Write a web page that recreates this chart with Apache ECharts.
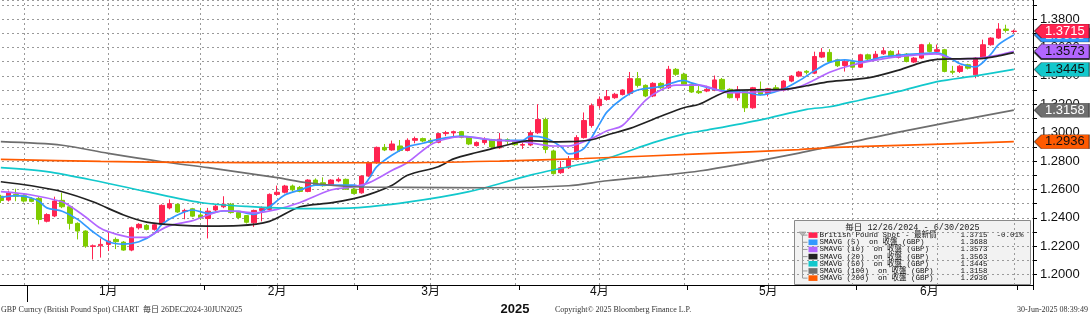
<!DOCTYPE html>
<html><head><meta charset="utf-8">
<script src="https://cdn.jsdelivr.net/npm/echarts@6/dist/echarts.min.js"></script>
<style>html,body{margin:0;padding:0;background:#fff}#c{width:1090px;height:315px}</style>
</head><body><div id="c"></div>
<script>
// ---------- categories (trading days) ----------
const dates = [
'2024-12-26','2024-12-27','2024-12-30','2024-12-31',
'2025-01-01','2025-01-02','2025-01-03','2025-01-06','2025-01-07','2025-01-08','2025-01-09','2025-01-10','2025-01-13','2025-01-14','2025-01-15','2025-01-16','2025-01-17','2025-01-20','2025-01-21','2025-01-22','2025-01-23','2025-01-24','2025-01-27','2025-01-28','2025-01-29','2025-01-30','2025-01-31',
'2025-02-03','2025-02-04','2025-02-05','2025-02-06','2025-02-07','2025-02-10','2025-02-11','2025-02-12','2025-02-13','2025-02-14','2025-02-17','2025-02-18','2025-02-19','2025-02-20','2025-02-21','2025-02-24','2025-02-25','2025-02-26','2025-02-27','2025-02-28',
'2025-03-03','2025-03-04','2025-03-05','2025-03-06','2025-03-07','2025-03-10','2025-03-11','2025-03-12','2025-03-13','2025-03-14','2025-03-17','2025-03-18','2025-03-19','2025-03-20','2025-03-21','2025-03-24','2025-03-25','2025-03-26','2025-03-27','2025-03-28','2025-03-31',
'2025-04-01','2025-04-02','2025-04-03','2025-04-04','2025-04-07','2025-04-08','2025-04-09','2025-04-10','2025-04-11','2025-04-14','2025-04-15','2025-04-16','2025-04-17','2025-04-18','2025-04-21','2025-04-22','2025-04-23','2025-04-24','2025-04-25','2025-04-28','2025-04-29','2025-04-30',
'2025-05-01','2025-05-02','2025-05-05','2025-05-06','2025-05-07','2025-05-08','2025-05-09','2025-05-12','2025-05-13','2025-05-14','2025-05-15','2025-05-16','2025-05-19','2025-05-20','2025-05-21','2025-05-22','2025-05-23','2025-05-26','2025-05-27','2025-05-28','2025-05-29','2025-05-30',
'2025-06-02','2025-06-03','2025-06-04','2025-06-05','2025-06-06','2025-06-09','2025-06-10','2025-06-11','2025-06-12','2025-06-13','2025-06-16','2025-06-17','2025-06-18','2025-06-19','2025-06-20','2025-06-23','2025-06-24','2025-06-25','2025-06-26','2025-06-27','2025-06-30',
'2025-07-01','2025-07-02'
];
const edgeExtra = '2025-07-03';
const monthLabels = ['1月','2月','3月','4月','5月','6月'];
const monthLabelIdx = [14,36,56,78,100,121];
const gridLineIdx = [3,14,26,36,46,56,67,78,89,100,111,122,132];
const yMin = 1.1927, yMax = 1.3934, yStep = 0.01;

// ---------- OHLC: [open, close, low, high] ----------
const ohlc = [
[1.2552,1.2522,1.2505,1.2562],[1.2525,1.2577,1.2515,1.2592],[1.2565,1.2552,1.2517,1.2605],[1.2556,1.2518,1.2508,1.2566],
[1.2535,1.2516,1.2510,1.2545],[1.2537,1.2389,1.2354,1.2548],[1.2376,1.2423,1.2368,1.2432],[1.2413,1.2518,1.2405,1.2549],[1.2523,1.2478,1.2468,1.2577],
[1.2478,1.2361,1.2318,1.2486],[1.2361,1.2307,1.2248,1.2368],[1.2307,1.2201,1.2189,1.2312],[1.2198,1.2203,1.2107,1.2212],[1.2203,1.2213,1.2120,1.2255],
[1.2213,1.2236,1.2166,1.2300],[1.2248,1.2232,1.2180,1.2262],[1.2229,1.2173,1.2168,1.2236],[1.2173,1.2330,1.2165,1.2338],[1.2330,1.2354,1.2318,1.2362],
[1.2347,1.2319,1.2312,1.2356],[1.2319,1.2351,1.2310,1.2358],[1.2354,1.2488,1.2345,1.2495],[1.2470,1.2500,1.2460,1.2530],[1.2495,1.2441,1.2435,1.2502],
[1.2445,1.2452,1.2390,1.2464],[1.2464,1.2412,1.2405,1.2470],[1.2420,1.2400,1.2385,1.2470],
[1.2395,1.2447,1.2255,1.2470],[1.2455,1.2482,1.2445,1.2495],[1.2478,1.2496,1.2468,1.2552],[1.2496,1.2437,1.2430,1.2505],[1.2437,1.2402,1.2390,1.2445],
[1.2416,1.2369,1.2360,1.2420],[1.2365,1.2452,1.2336,1.2458],[1.2452,1.2465,1.2375,1.2480],[1.2459,1.2565,1.2450,1.2572],[1.2565,1.2580,1.2555,1.2627],
[1.2580,1.2624,1.2572,1.2632],[1.2624,1.2597,1.2585,1.2634],[1.2614,1.2586,1.2580,1.2624],[1.2586,1.2666,1.2580,1.2672],[1.2666,1.2631,1.2625,1.2678],
[1.2647,1.2626,1.2620,1.2685],[1.2631,1.2666,1.2628,1.2672],[1.2660,1.2671,1.2650,1.2685],[1.2671,1.2602,1.2598,1.2677],[1.2602,1.2572,1.2565,1.2610],
[1.2576,1.2694,1.2570,1.2700],[1.2694,1.2788,1.2688,1.2795],[1.2788,1.2896,1.2780,1.2902],[1.2896,1.2878,1.2870,1.2920],[1.2878,1.2920,1.2872,1.2944],
[1.2906,1.2874,1.2866,1.2948],[1.2874,1.2946,1.2868,1.2960],[1.2946,1.2958,1.2925,1.2972],[1.2958,1.2941,1.2932,1.2965],[1.2946,1.2932,1.2915,1.2960],
[1.2932,1.2993,1.2925,1.2998],[1.2993,1.3000,1.2975,1.3012],[1.2998,1.3007,1.2968,1.3014],[1.3007,1.2967,1.2960,1.3012],[1.2967,1.2920,1.2912,1.2972],
[1.2909,1.2931,1.2902,1.2938],[1.2930,1.2950,1.2915,1.2967],[1.2950,1.2899,1.2892,1.2956],[1.2893,1.2954,1.2886,1.2998],[1.2950,1.2939,1.2918,1.2960],
[1.2940,1.2915,1.2908,1.2945],
[1.2912,1.2916,1.2885,1.2930],[1.2913,1.2999,1.2905,1.3015],[1.2999,1.3092,1.2990,1.3200],[1.3092,1.2882,1.2855,1.3106],[1.2871,1.2711,1.2705,1.2880],
[1.2718,1.2753,1.2710,1.2800],[1.2753,1.2812,1.2745,1.2835],[1.2812,1.2965,1.2805,1.2982],[1.2965,1.3085,1.2958,1.3142],[1.3050,1.3190,1.3035,1.3205],
[1.3190,1.3235,1.3172,1.3255],[1.3234,1.3253,1.3225,1.3300],[1.3246,1.3270,1.3238,1.3280],[1.3268,1.3300,1.3262,1.3306],[1.3276,1.3380,1.3262,1.3427],
[1.3380,1.3333,1.3318,1.3427],[1.3333,1.3258,1.3250,1.3340],[1.3258,1.3347,1.3250,1.3355],[1.3347,1.3316,1.3308,1.3355],[1.3316,1.3446,1.3308,1.3470],
[1.3446,1.3411,1.3400,1.3455],[1.3411,1.3340,1.3332,1.3422],
[1.3340,1.3286,1.3280,1.3346],[1.3290,1.3281,1.3272,1.3330],[1.3293,1.3305,1.3285,1.3330],[1.3300,1.3371,1.3292,1.3402],[1.3375,1.3305,1.3298,1.3385],
[1.3305,1.3246,1.3240,1.3312],[1.3246,1.3300,1.3225,1.3328],[1.3293,1.3175,1.3145,1.3300],[1.3175,1.3316,1.3168,1.3322],[1.3305,1.3269,1.3262,1.3360],
[1.3276,1.3309,1.3255,1.3315],[1.3316,1.3297,1.3290,1.3335],[1.3300,1.3363,1.3290,1.3370],[1.3363,1.3398,1.3355,1.3405],[1.3398,1.3427,1.3390,1.3435],
[1.3432,1.3425,1.3410,1.3440],[1.3419,1.3536,1.3412,1.3570],[1.3532,1.3565,1.3525,1.3595],[1.3565,1.3501,1.3495,1.3588],[1.3513,1.3471,1.3462,1.3520],
[1.3473,1.3500,1.3430,1.3515],[1.3500,1.3461,1.3455,1.3508],
[1.3461,1.3548,1.3455,1.3555],[1.3548,1.3518,1.3510,1.3556],[1.3518,1.3552,1.3512,1.3575],[1.3555,1.3576,1.3548,1.3600],[1.3572,1.3536,1.3528,1.3580],
[1.3530,1.3553,1.3522,1.3580],[1.3553,1.3501,1.3495,1.3560],[1.3497,1.3525,1.3490,1.3532],[1.3525,1.3619,1.3518,1.3625],[1.3619,1.3572,1.3565,1.3635],
[1.3572,1.3584,1.3550,1.3620],[1.3584,1.3431,1.3425,1.3590],[1.3432,1.3425,1.3410,1.3470],[1.3431,1.3468,1.3420,1.3475],[1.3478,1.3454,1.3445,1.3485],
[1.3407,1.3525,1.3383,1.3532],[1.3525,1.3619,1.3518,1.3655],[1.3619,1.3666,1.3612,1.3672],[1.3666,1.3729,1.3660,1.3771],[1.3729,1.3720,1.3705,1.3760],
[1.3712,1.3715,1.3700,1.3725]
];
const lastChange = '-0.01%';

// ---------- moving averages, read at sampled days: [dayIndex, value] ----------
const sma5 = [[0,1.2544],[2,1.2556],[4,1.2540],[5,1.2515],[6,1.2470],[8,1.2446],[10,1.2389],[12,1.2302],[14,1.2232],[16,1.2215],[18,1.2232],[20,1.2290],[21,1.2355],[23,1.2420],[25,1.2455],[27,1.2432],[29,1.2448],[31,1.2445],[33,1.2425],[35,1.2478],[37,1.2561],[39,1.2596],[41,1.2631],[43,1.2631],[46,1.2631],[47,1.2619],[48,1.2678],[49,1.2760],[51,1.2842],[53,1.2901],[55,1.2925],[57,1.2953],[60,1.2975],[63,1.2955],[65,1.2945],[68,1.2946],[69,1.2975],[71,1.2960],[73,1.2901],[74,1.2850],[76,1.2889],[78,1.3060],[79,1.3146],[81,1.3240],[83,1.3300],[86,1.3325],[89,1.3368],[90,1.3350],[93,1.3305],[95,1.3290],[97,1.3285],[99,1.3265],[102,1.3308],[104,1.3365],[106,1.3435],[108,1.3495],[110,1.3512],[112,1.3498],[115,1.3533],[118,1.3550],[122,1.3562],[124,1.3515],[125,1.3485],[127,1.3463],[129,1.3552],[130,1.3620],[132,1.3688]];
const sma10 = [[0,1.2584],[4,1.2561],[8,1.2513],[9,1.2483],[11,1.2408],[13,1.2326],[15,1.2285],[17,1.2263],[19,1.2263],[20,1.2290],[22,1.2345],[25,1.2380],[27,1.2420],[29,1.2450],[31,1.2445],[33,1.2435],[36,1.2460],[39,1.2508],[43,1.2596],[46,1.2620],[48,1.2648],[51,1.2735],[53,1.2790],[56,1.2915],[58,1.2955],[60,1.2971],[62,1.2965],[64,1.2948],[68,1.2937],[72,1.2906],[74,1.2906],[77,1.2960],[79,1.3013],[81,1.3050],[84,1.3228],[86,1.3300],[88,1.3335],[91,1.3335],[95,1.3280],[99,1.3288],[102,1.3300],[104,1.3323],[106,1.3370],[108,1.3425],[111,1.3476],[114,1.3510],[117,1.3535],[122,1.3555],[124,1.3520],[127,1.3523],[130,1.3547],[132,1.3573]];
const sma20 = [[0,1.2654],[4,1.2626],[8,1.2584],[12,1.2513],[16,1.2420],[19,1.2370],[23,1.2349],[27,1.2342],[31,1.2345],[35,1.2375],[39,1.2478],[43,1.2505],[46,1.2535],[48,1.2565],[51,1.2630],[53,1.2700],[57,1.2760],[59,1.2815],[62,1.2860],[65,1.2900],[69,1.2944],[72,1.2935],[74,1.2936],[77,1.2950],[79,1.2983],[82,1.3030],[86,1.3115],[89,1.3175],[91,1.3200],[93,1.3253],[95,1.3295],[99,1.3302],[102,1.3305],[105,1.3330],[108,1.3359],[113,1.3385],[117,1.3440],[120,1.3495],[122,1.3516],[125,1.3520],[128,1.3523],[130,1.3540],[132,1.3563]];
const sma50 = [[0,1.2753],[6,1.2725],[13,1.2654],[19,1.2584],[26,1.2508],[32,1.2480],[39,1.2465],[46,1.2470],[53,1.2510],[61,1.2584],[69,1.2701],[74,1.2760],[79,1.2819],[85,1.2930],[89,1.2990],[92,1.3018],[99,1.3090],[105,1.3164],[108,1.3182],[112,1.3230],[117,1.3290],[122,1.3359],[127,1.3400],[132,1.3445]];
const sma100 = [[0,1.2936],[8,1.2911],[14,1.2854],[21,1.2795],[27,1.2753],[36,1.2683],[40,1.2647],[46,1.2619],[53,1.2615],[64,1.2612],[74,1.2626],[79,1.2661],[91,1.2730],[104,1.2856],[117,1.3004],[132,1.3158]];
const sma200 = [[0,1.2812],[13,1.2797],[26,1.2790],[39,1.2788],[52,1.2788],[65,1.2800],[76,1.2818],[91,1.2850],[104,1.2880],[108,1.2894],[117,1.2910],[132,1.2936]];

const legendTitle = '毎日 12/26/2024 - 6/30/2025';
const legendNames = ['British Pound Spot - 最新價','SMAVG (5)  on 收盤 (GBP)','SMAVG (10)  on 收盤 (GBP)','SMAVG (20)  on 收盤 (GBP)','SMAVG (50)  on 收盤 (GBP)','SMAVG (100)  on 收盤 (GBP)','SMAVG (200)  on 收盤 (GBP)'];
const footerLeft = 'GBP Curncy (British Pound Spot) CHART  毎日 26DEC2024-30JUN2025';
const footerMid = 'Copyright\u00a9 2025 Bloomberg Finance L.P.';
const footerRight = '30-Jun-2025 08:39:49';

// ---------- styles ----------
const UP = '#ff2350', DOWN = '#7fcc00';
const lineCfg = [
  {data: sma5,   color: '#3399ff', fg: '#ffffff', z: 16},
  {data: sma10,  color: '#b266ff', fg: '#111111', z: 18},
  {data: sma20,  color: '#222222', fg: '#ffffff', z: 17},
  {data: sma50,  color: '#12c8cc', fg: '#111111', z: 15},
  {data: sma100, color: '#6e6e6e', fg: '#ffffff', z: 14},
  {data: sma200, color: '#ff5a00', fg: '#111111', z: 13}
];
const lastIdx = ohlc.length - 1;
const lastClose = ohlc[lastIdx][1];

const monthStartIdx = [];
for (let i = 1; i < dates.length; i++) if (dates[i].slice(0,7) !== dates[i-1].slice(0,7)) monthStartIdx.push(i);
const yearStartIdx = dates.findIndex(d => d.startsWith('2025'));

function flag(val, bg, fg, z) {
  return {
    silent: true, z: z,
    symbol: 'path://M0,7L7,0L55,0L55,14L7,14Z', symbolSize: [55, 14], symbolOffset: [48, 0],
    itemStyle: {color: bg, borderColor: 'rgba(0,0,0,0.45)', borderWidth: 0.8},
    label: {show: true, position: 'inside', offset: [3, 0], color: fg, fontSize: 13, fontFamily: 'Liberation Sans', formatter: () => val.toFixed(4)},
    data: [{coord: [lastIdx, val], value: val}]
  };
}

const series = [{
  type: 'candlestick', name: 'GBP', data: ohlc, z: 2, barWidth: 5,
  itemStyle: {color: UP, color0: DOWN, borderColor: UP, borderColor0: DOWN, borderWidth: 1},
  markLine: {silent: true, symbol: 'none', z: 1, label: {show: false},
    lineStyle: {color: '#9a9a9a', type: [2, 3], width: 1},
    data: gridLineIdx.map(i => ({xAxis: i}))},
  markPoint: flag(lastClose, UP, '#ffffff', 20)
}];
lineCfg.forEach(c => {
  series.push({
    type: 'line', data: c.data, z: 3, symbol: 'none', smooth: 0.3,
    lineStyle: {color: c.color, width: 1.7},
    markPoint: flag(c.data[c.data.length - 1][1], c.color, c.fg, c.z)
  });
});

// legend box built from the same arrays
const legendVals = [lastClose].concat(lineCfg.map(c => c.data[c.data.length - 1][1]));
const legendColors = [UP].concat(lineCfg.map(c => c.color));
const monoFont = '7.5px "Liberation Mono", "Noto Sans CJK TC"';
const lgChildren = [
  {type: 'rect', shape: {x: 0, y: 0, width: 236, height: 64}, style: {fill: '#f2f2f2', stroke: '#8a8a8a', lineWidth: 1}},
  {type: 'text', style: {x: 118, y: 7.5, text: legendTitle, textAlign: 'center', textVerticalAlign: 'middle', font: '8.5px "Liberation Mono", "Noto Sans CJK JP"', fill: '#222'}},
  {type: 'line', shape: {x1: 8, y1: 13, x2: 8, y2: 57.5}, style: {stroke: '#999', lineWidth: 1}},
  {type: 'polygon', shape: {points: [[4.5, 11.5], [11.5, 11.5], [8, 15.5]]}, style: {fill: '#bbb', stroke: '#888', lineWidth: 0.6}}
];
legendNames.forEach((nm, k) => {
  const y = 14.6 + 7.17 * k;
  lgChildren.push({type: 'line', shape: {x1: 8, y1: y, x2: 13, y2: y}, style: {stroke: '#999', lineWidth: 1}});
  lgChildren.push({type: 'rect', shape: {x: 14, y: y - 2.8, width: 9, height: 5.6}, style: {fill: legendColors[k]}});
  lgChildren.push({type: 'text', style: {x: 25, y: y, text: nm, textVerticalAlign: 'middle', font: monoFont, fill: '#111'}});
  lgChildren.push({type: 'text', style: {x: 193, y: y, text: legendVals[k].toFixed(4), textAlign: 'right', textVerticalAlign: 'middle', font: monoFont, fill: '#111'}});
  if (k === 0) lgChildren.push({type: 'text', style: {x: 229, y: y, text: lastChange, textAlign: 'right', textVerticalAlign: 'middle', font: monoFont, fill: '#111'}});
});

const footFont = '8px "Liberation Serif", "Noto Sans CJK JP"';
const option = {
  animation: false,
  backgroundColor: '#ffffff',
  textStyle: {fontFamily: 'Liberation Sans, "Noto Sans CJK JP"'},
  grid: {left: -3, right: 57, top: 0, bottom: 30, containLabel: false, outerBoundsMode: 'none'},
  xAxis: [{
    type: 'category', data: dates, boundaryGap: true,
    axisLine: {show: true, lineStyle: {color: '#000', width: 1}},
    axisTick: {show: true, length: 5, interval: i => monthStartIdx.includes(i), lineStyle: {color: '#000'}},
    axisLabel: {interval: i => monthLabelIdx.includes(i), formatter: (v, i) => monthLabels[monthLabelIdx.indexOf(i)] || '',
      fontSize: 12, color: '#111', margin: 1, fontFamily: 'Liberation Sans, "Noto Sans CJK JP"'},
    splitLine: {show: false},
    name: '2025', nameLocation: 'middle', nameGap: 9,
    nameTextStyle: {fontSize: 13, fontWeight: 'bold', color: '#111', fontFamily: 'Liberation Sans', verticalAlign: 'top'}
  }, {
    type: 'category', data: dates.concat([edgeExtra]), boundaryGap: false, position: 'bottom',
    axisLine: {show: false}, axisLabel: {show: false}, splitLine: {show: false},
    axisTick: {show: true, length: 17, interval: i => i === yearStartIdx, lineStyle: {color: '#000'}}
  }],
  yAxis: {
    type: 'value', position: 'right', min: yMin, max: yMax, splitNumber: 20, minInterval: yStep, maxInterval: yStep,
    axisLine: {show: true, lineStyle: {color: '#000'}},
    axisTick: {show: true, length: 4, lineStyle: {color: '#000'}},
    axisLabel: {color: '#111', fontSize: 13, margin: 7, fontFamily: 'Liberation Sans',
      showMinLabel: false, showMaxLabel: false,
      formatter: v => { const k = v / yStep; return (Math.abs(k - Math.round(k)) < 1e-6 && Math.round(k) % 2 === 0) ? v.toFixed(4) : ''; }},
    splitLine: {show: true, lineStyle: {color: '#9a9a9a', type: [2, 3], width: 1}}
  },
  series: series,
  graphic: [
    {type: 'group', left: 794, top: 220, z: 50, children: lgChildren},
    {type: 'text', left: 1, top: 306, z: 50, style: {text: footerLeft, font: footFont, fill: '#333'}},
    {type: 'text', left: 555, top: 306, z: 50, style: {text: footerMid, font: footFont, fill: '#333'}},
    {type: 'text', right: 2, top: 306, z: 50, style: {text: footerRight, font: footFont, fill: '#333'}}
  ]
};
echarts.init(document.getElementById('c')).setOption(option);
</script>
</body></html>
